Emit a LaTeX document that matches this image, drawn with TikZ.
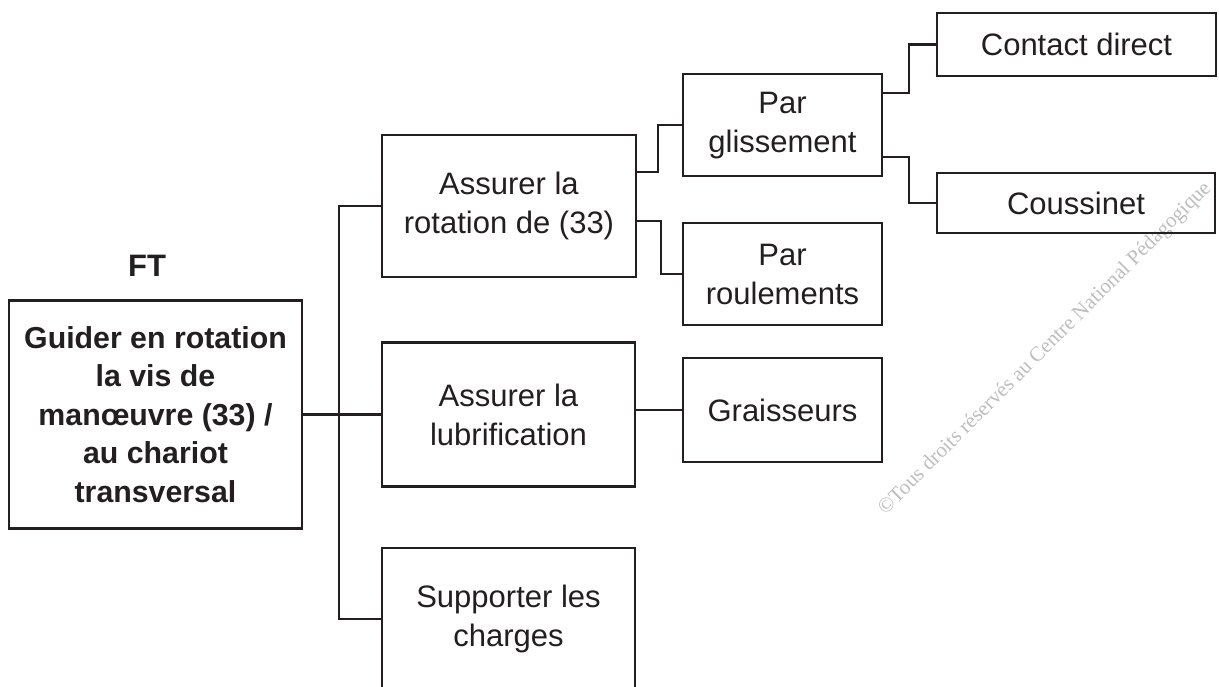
\documentclass[tikz,border=0pt]{standalone}
\usepackage{fontspec}
\setmainfont{Liberation Sans}
\newfontfamily\wmfont{Liberation Serif}
\definecolor{ink}{HTML}{231F20}
\definecolor{wm}{RGB}{190,190,190}
\newcommand{\lowtwo}[2]{\raisebox{-3pt}{\begin{tabular}{@{}c@{}}#1\\#2\end{tabular}}}
\tikzset{
  box/.style={draw=ink, line width=2.6pt, inner sep=0pt, align=center,
    text=ink, font=\fontsize{31}{39}\selectfont},
  boldbox/.style={box, font=\fontsize{30.3}{38.6}\selectfont\bfseries},
  link/.style={draw=ink, line width=2.3pt},
}
\begin{document}
\begin{tikzpicture}[x=1pt,y=-1pt]
\useasboundingbox (0,0) rectangle (1219,687);
\clip (0,0) rectangle (1219,687);
\fill[white] (0,0) rectangle (1219,687);
% watermark
\node[text=wm, font=\wmfont\fontsize{21}{21}\selectfont, rotate=45] (wmark) at (1045,349)
  {\textcopyright Tous droits réservés au Centre National Pédagogique};
% title
\node[text=ink, font=\fontsize{31}{31}\selectfont\bfseries] (ft) at (147,266) {FT};
% boxes
\node[boldbox, minimum width=293pt, minimum height=228pt] (main) at (155.5,414.5)
  {Guider en rotation\\la vis de\\manœuvre (33) /\\au chariot\\transversal};
\node[box, minimum width=254pt, minimum height=142pt] (rot) at (509,206) {\lowtwo{Assurer la}{rotation de (33)}};
\node[box, minimum width=253pt, minimum height=144pt] (lub) at (508.5,414.5) {Assurer la\\lubrification};
\node[box, minimum width=253pt, minimum height=142pt] (sup) at (508.5,619) {Supporter les\\charges};
\node[box, minimum width=199pt, minimum height=102pt] (gli) at (782.5,125) {\lowtwo{Par}{glissement}};
\node[box, minimum width=199pt, minimum height=102pt] (rou) at (782.5,274) {Par\\roulements};
\node[box, minimum width=199pt, minimum height=104pt] (gra) at (782.5,410) {Graisseurs};
\node[box, minimum width=279pt, minimum height=63pt] (con) at (1076.5,44.5) {Contact direct};
\node[box, minimum width=278pt, minimum height=60pt] (cou) at (1076,203) {Coussinet};
% connectors
\draw[link] (main.east) -- (lub.west);
\draw[link] (rot.west) -- ++(-42,0) |- (sup.west);
\draw[link] (rot.east |- 0,172) -- (658,172) |- (gli.west);
\draw[link] (rot.east |- 0,221) -- (661,221) |- (rou.west);
\draw[link] (lub.east |- gra.west) -- (gra.west);
\draw[link] (gli.east |- 0,93) -- (909,93) |- (con.west);
\draw[link] (gli.east |- 0,157) -- (909,157) |- (cou.west);
\end{tikzpicture}
\end{document}
